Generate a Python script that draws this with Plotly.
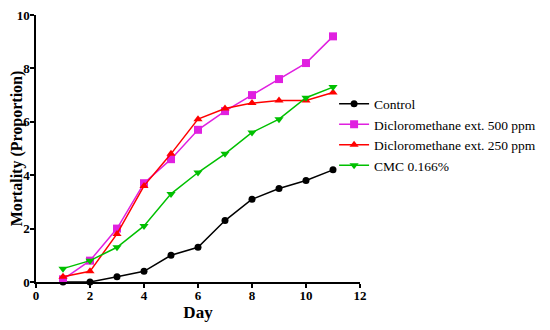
import plotly.graph_objects as go

days = [1, 2, 3, 4, 5, 6, 7, 8, 9, 10, 11]
control = [0.0, 0.0, 0.2, 0.4, 1.0, 1.3, 2.3, 3.1, 3.5, 3.8, 4.2]
dcm500 = [0.1, 0.8, 2.0, 3.7, 4.6, 5.7, 6.4, 7.0, 7.6, 8.2, 9.2]
dcm250 = [0.2, 0.4, 1.8, 3.6, 4.8, 6.1, 6.5, 6.7, 6.8, 6.8, 7.1]
cmc = [0.5, 0.8, 1.3, 2.1, 3.3, 4.1, 4.8, 5.6, 6.1, 6.9, 7.3]

names = ["Control", "Dicloromethane ext. 500 ppm", "Dicloromethane ext. 250 ppm", "CMC 0.166%"]
colors = ["#000000", "#E020E0", "#FF0000", "#00C000"]
symbols = ["circle", "square", "triangle-up", "triangle-down"]
series = [control, dcm500, dcm250, cmc]

fig = go.Figure()
for n, c, s, y in zip(names, colors, symbols, series):
    fig.add_trace(go.Scatter(
        x=days, y=y, name=n, mode="lines+markers",
        line=dict(color=c, width=1.5),
        marker=dict(symbol=s, size=8 if s != "circle" else 7, color=c),
        cliponaxis=False,
    ))

font = "Liberation Serif, Times New Roman, serif"
fig.update_layout(
    width=550, height=330,
    margin=dict(l=28, r=198, t=7, b=56, autoexpand=False),
    plot_bgcolor="white", paper_bgcolor="white",
    font=dict(family=font, color="black"),
    showlegend=True,
    legend=dict(x=0.92, y=0.725, xanchor="left", yanchor="top",
                font=dict(size=13.5, family=font), tracegroupgap=0,
                itemwidth=30, bgcolor="rgba(0,0,0,0)"),
    xaxis=dict(range=[0, 12], tickvals=[0, 2, 4, 6, 8, 10, 12],
               showline=True, linecolor="black", linewidth=1.5,
               ticks="outside", ticklen=4, tickwidth=1.5, tickcolor="black",
               showgrid=False, zeroline=False, automargin=False,
               ticklabelstandoff=-3, ticklabeloverflow="allow",
               tickfont=dict(size=13, family=font, weight="bold"),
               title=dict(text="<b>Day</b>", font=dict(size=17, family=font), standoff=0)),
    yaxis=dict(range=[0, 10], tickvals=[0, 2, 4, 6, 8, 10],
               showline=True, linecolor="black", linewidth=1.5,
               ticks="outside", ticklen=4, tickwidth=1.5, tickcolor="black",
               showgrid=False, zeroline=False, automargin=False,
               ticklabelstandoff=-2, ticklabeloverflow="allow",
               tickfont=dict(size=13, family=font, weight="bold"),
               title=dict(text="<b>Mortality (Proportion)</b>", font=dict(size=16, family=font), standoff=0)),
)

fig.write_html("out.html")
